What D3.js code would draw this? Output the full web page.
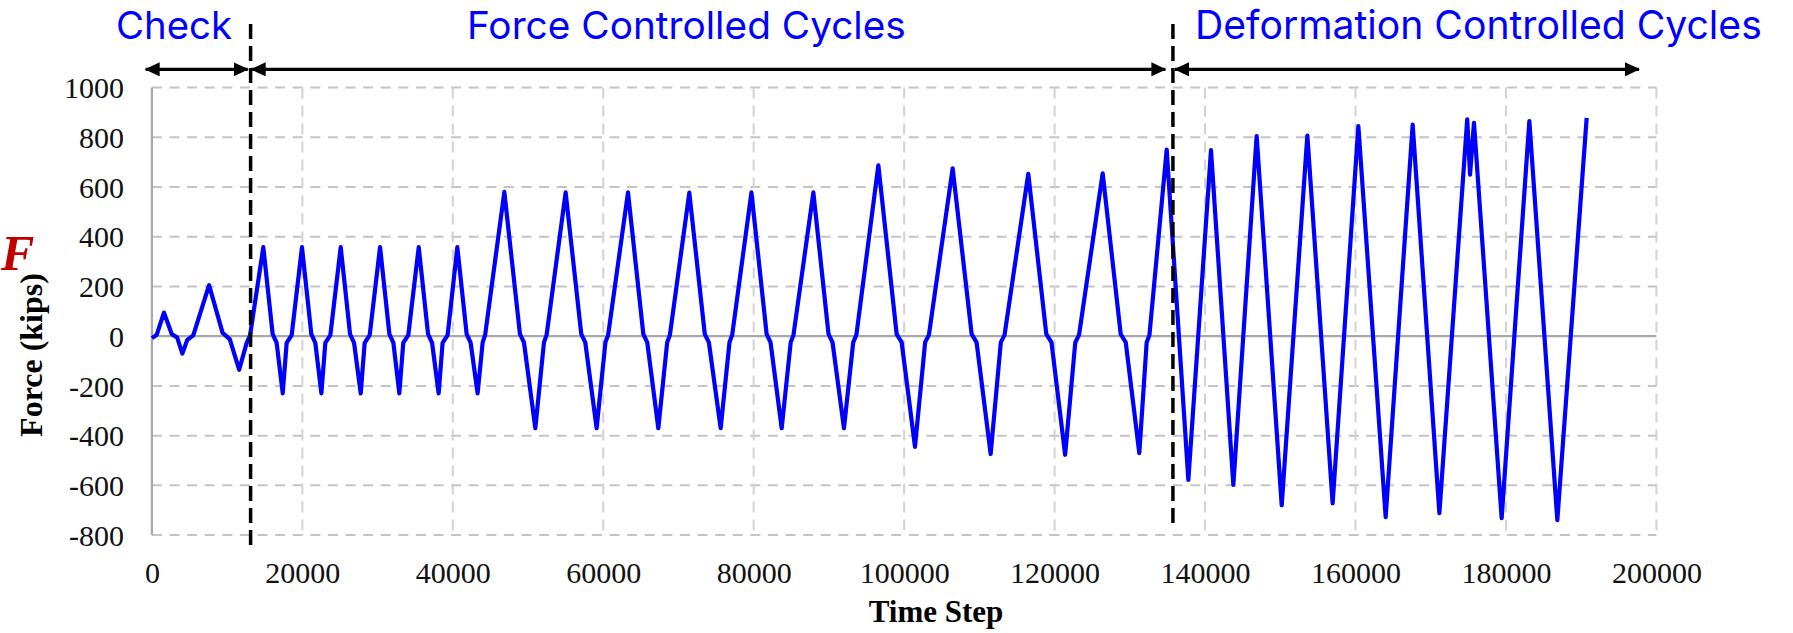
<!DOCTYPE html>
<html><head><meta charset="utf-8">
<script src="https://cdn.jsdelivr.net/npm/d3@7"></script>
<style>body{margin:0;background:#fff}svg{display:block}</style>
</head><body>
<svg id="chart" width="1793" height="633"></svg>
<script>
// ---- data ----
const timeStep = [
  0,650,1600,2650,3350,4050,4700,5500,7600,9400,10350,11600,12600,13050,
  14810,16055,16585,17390,17915,18580,
  19950,21195,21725,22530,23055,23720,
  25100,26345,26875,27760,28285,28950,
  30330,31575,32105,32890,33415,34080,
  35470,36715,37245,38120,38645,39310,
  40600,41845,42375,43300,43970,44300,
  46850,48930,49460,50970,52120,52470,
  55000,57080,57610,59120,60290,60650,
  63290,65330,65850,67320,68500,68860,
  71440,73500,74040,75610,76780,77140,
  79700,81720,82240,83720,84920,85290,
  87930,89950,90480,92000,93230,93650,
  96570,99005,99670,101440,102790,103290,
  106450,108975,109630,111500,112850,113350,
  116500,118900,119590,121400,122750,123250,
  126390,128790,129460,131260,132240,132610,
  134900,137780,140790,143760,146860,150190,153600,156960,
  160380,164010,167600,171150,174850,175230,175750,179430,183110,186830,190730
];
const force = [
  -8,6,95,8,-5,-70,-15,3,205,13,-12,-135,-27,3,
  358,8,-27,-230,-27,4,
  358,8,-27,-230,-27,4,
  358,8,-27,-230,-27,4,
  358,8,-27,-230,-27,4,
  358,8,-27,-230,-27,4,
  358,8,-27,-230,-25,5,
  580,8,-25,-370,-25,5,
  578,8,-25,-370,-25,5,
  578,8,-25,-370,-25,5,
  577,8,-25,-370,-25,5,
  578,8,-25,-370,-25,5,
  578,8,-25,-370,-25,5,
  687,8,-25,-445,-25,5,
  675,8,-25,-474,-25,5,
  653,8,-25,-477,-25,5,
  655,8,-25,-470,-25,5,
  750,-578,748,-598,805,-680,807,-672,
  845,-728,851,-712,872,650,858,-732,865,-740,878
];
const xTicks = [0,20000,40000,60000,80000,100000,120000,140000,160000,180000,200000];
const yTicks = [-800,-600,-400,-200,0,200,400,600,800,1000];
const phaseLabels = ["Check","Force Controlled Cycles","Deformation Controlled Cycles"];
const phaseDividers = [13120, 135730];
const dividerBottoms = [-840, -778];
const dividerTop = 1255;
const arrowLevel = 1073;
const phaseArrowStart = [-960, 13130, 135870];
const phaseArrowEnd = [12870, 134860, 197820];

// ---- layout ----
const W = 1793, H = 633;
const x = d3.scaleLinear().domain([0, 200000]).range([151.9, 1656.4]);
const y = d3.scaleLinear().domain([-800, 1000]).range([535.1, 87.5]);
const svg = d3.select("#chart");
const serif = "'Liberation Serif','Times New Roman',serif";

// gridlines
const grid = svg.append("g");
grid.selectAll("line.h").data(yTicks.filter(d => d !== 0)).join("line")
  .attr("x1", x(0)).attr("x2", x(200000))
  .attr("y1", d => y(d)).attr("y2", d => y(d))
  .attr("stroke", "#c4c4c4").attr("stroke-width", 2).attr("stroke-dasharray", "10,7.6");
grid.selectAll("line.v").data(xTicks.filter(d => d !== 0)).join("line")
  .attr("x1", d => x(d)).attr("x2", d => x(d))
  .attr("y1", y(1000)).attr("y2", y(-800))
  .attr("stroke", "#d2d2d2").attr("stroke-width", 2).attr("stroke-dasharray", "11,7");

// zero line and left axis line
svg.append("line").attr("x1", x(0)).attr("x2", x(200000)).attr("y1", y(0)).attr("y2", y(0))
  .attr("stroke", "#a9a9a9").attr("stroke-width", 2.2);
svg.append("line").attr("x1", x(0)).attr("x2", x(0)).attr("y1", y(1000)).attr("y2", y(-800))
  .attr("stroke", "#a9a9a9").attr("stroke-width", 2.2);

// axes (labels only)
const yAxis = d3.axisLeft(y).tickValues(yTicks).tickFormat(d => String(d)).tickSize(0).tickPadding(28);
const gy = svg.append("g").attr("transform", `translate(${x(0)},0)`).call(yAxis);
gy.select(".domain").remove();
gy.selectAll("text").attr("font-family", serif).attr("font-size", 30).attr("fill", "#111").attr("dy", "0.34em");

const xAxis = d3.axisBottom(x).tickValues(xTicks).tickFormat(d => String(d)).tickSize(0).tickPadding(0);
const gx = svg.append("g").attr("transform", `translate(0,${y(-800)})`).call(xAxis);
gx.select(".domain").remove();
gx.selectAll("text").attr("font-family", serif).attr("font-size", 30).attr("fill", "#111")
  .attr("dy", null).attr("y", 48);

// axis titles
svg.append("text").attr("x", 936).attr("y", 622).attr("text-anchor", "middle")
  .attr("font-family", serif).attr("font-weight", "bold").attr("font-size", 31).text("Time Step");
svg.append("text").attr("transform", "translate(42,355) rotate(-90)").attr("text-anchor", "middle")
  .attr("font-family", serif).attr("font-weight", "bold").attr("font-size", 32).text("Force (kips)");
svg.append("text").attr("x", 1).attr("y", 270)
  .attr("font-family", serif).attr("font-weight", "bold").attr("font-style", "italic")
  .attr("font-size", 50).attr("fill", "#c00000").text("F");

// data line
const pts = timeStep.map((t, i) => [t, force[i]]);
svg.append("path").datum(pts)
  .attr("fill", "none").attr("stroke", "#0000ff").attr("stroke-width", 4.2)
  .attr("stroke-linejoin", "round")
  .attr("d", d3.line().x(d => x(d[0])).y(d => y(d[1])));

// phase dividers
svg.selectAll("line.div").data(phaseDividers).join("line")
  .attr("x1", d => x(d)).attr("x2", d => x(d))
  .attr("y1", y(dividerTop)).attr("y2", (d, i) => y(dividerBottoms[i]))
  .attr("stroke", "#000").attr("stroke-width", 3.5).attr("stroke-dasharray", "15,7");

// arrows
const defs = svg.append("defs");
defs.append("marker").attr("id", "ah").attr("viewBox", "0 0 15 14")
  .attr("refX", 14).attr("refY", 7).attr("markerWidth", 15).attr("markerHeight", 14)
  .attr("markerUnits", "userSpaceOnUse").attr("orient", "auto-start-reverse")
  .append("path").attr("d", "M0,0 L15,7 L0,14 Z").attr("fill", "#000");
svg.selectAll("line.arr").data(phaseArrowStart).join("line")
  .attr("x1", d => x(d) + 1).attr("x2", (d, i) => x(phaseArrowEnd[i]) - 1)
  .attr("y1", y(arrowLevel)).attr("y2", y(arrowLevel))
  .attr("stroke", "#000").attr("stroke-width", 3.2)
  .attr("marker-start", "url(#ah)").attr("marker-end", "url(#ah)");

// phase labels (sans, blue)
const labelLeft = [116, 467, 1195];
const labelWidth = [116, 439, 567];
svg.selectAll("text.ph").data(phaseLabels).join("text")
  .attr("class", "ph")
  .attr("x", (d, i) => labelLeft[i]).attr("y", 39)
  .attr("font-family", "Inter, 'Noto Sans', sans-serif").attr("font-size", 38)
  .attr("fill", "#0000ff").text(d => d)
  .each(function(d, i) {
    const len = this.getComputedTextLength();
    const fs = 38 * labelWidth[i] / len;
    d3.select(this).attr("font-size", fs.toFixed(2));
  });
</script>
</body></html>
